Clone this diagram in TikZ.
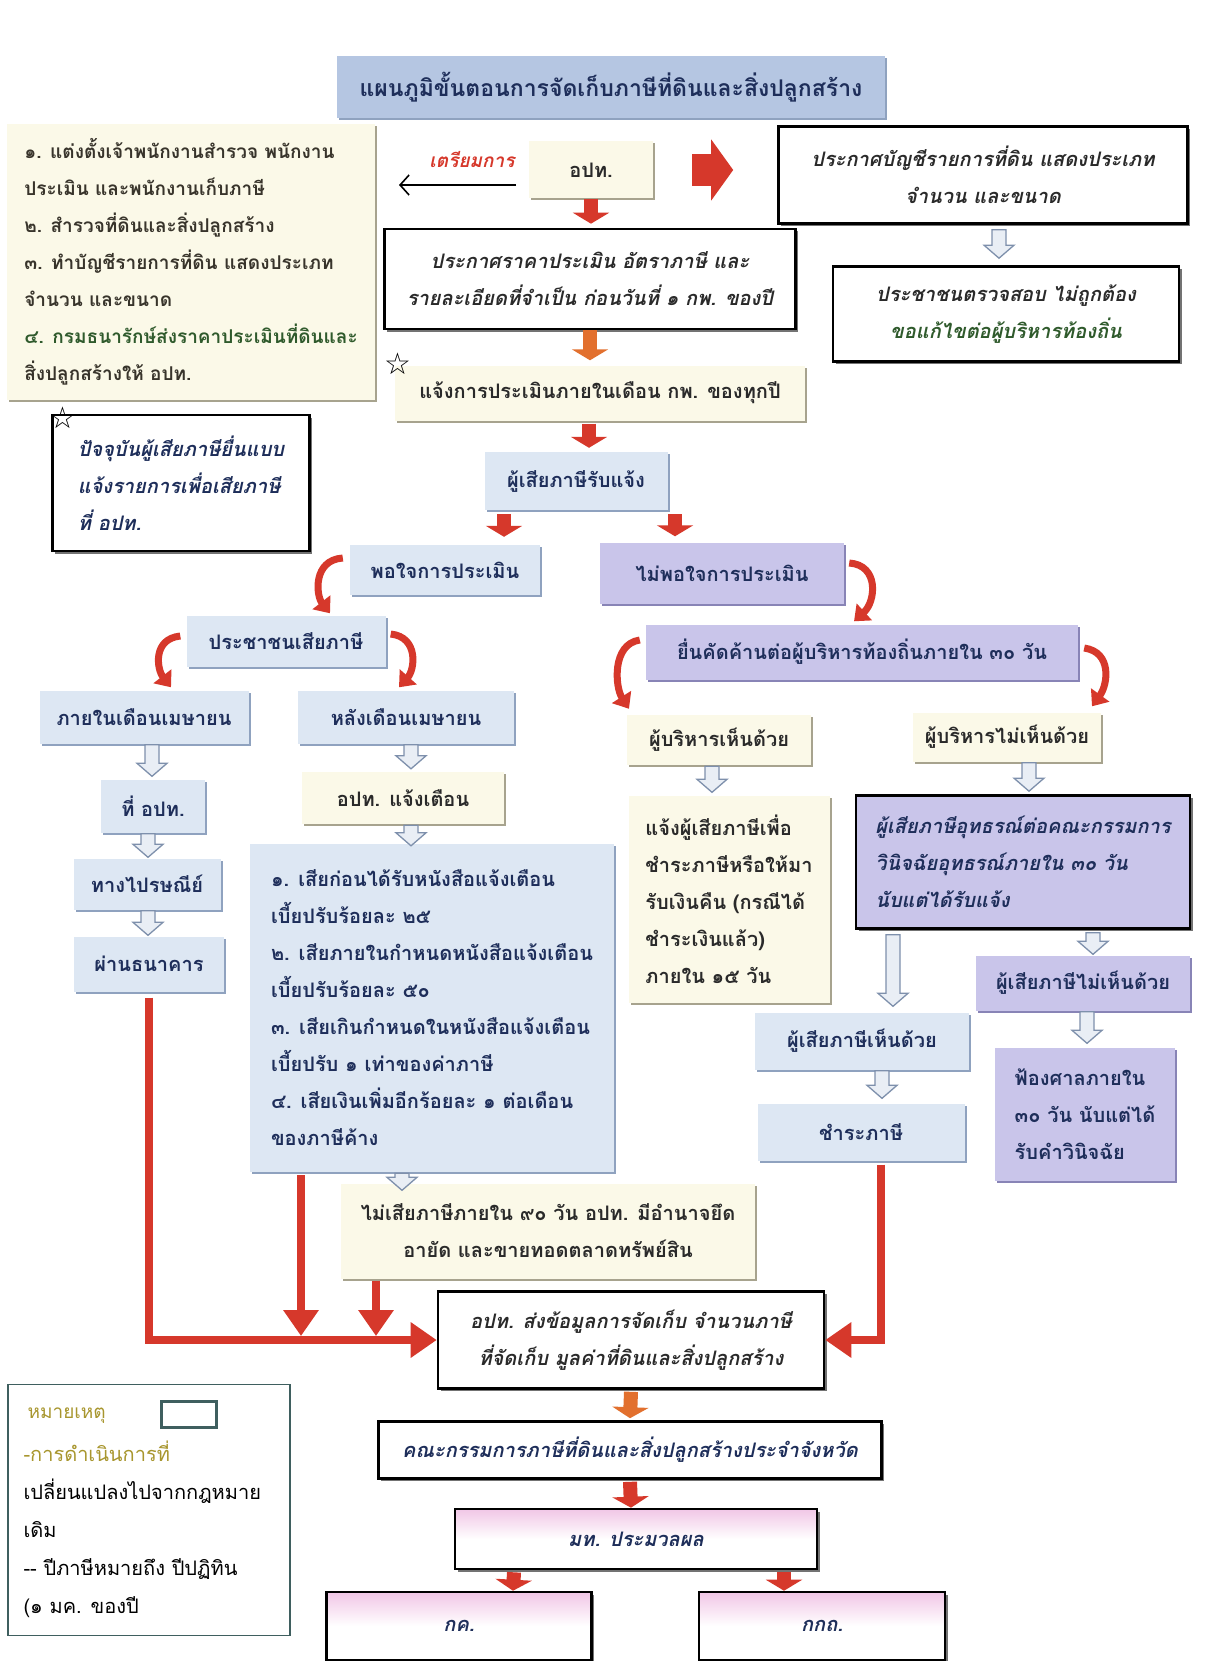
\documentclass[tikz,border=0pt]{standalone}
\usepackage{fontspec}
\setmainfont[Script=Thai]{Loma}
\newfontfamily\starfont{DejaVu Sans}
\usetikzlibrary{arrows.meta,shadows,calc}

\definecolor{boxblue}{HTML}{DDE7F3}
\definecolor{blueedge}{HTML}{8FA2BF}
\definecolor{boxcream}{HTML}{FBF9E8}
\definecolor{creamedge}{HTML}{A7A38E}
\definecolor{boxlav}{HTML}{C9C5EA}
\definecolor{lavedge}{HTML}{8884B6}
\definecolor{titleblue}{HTML}{B5C6E2}
\definecolor{navy}{HTML}{1E2E5A}
\definecolor{inkdark}{HTML}{2A2A2A}
\definecolor{arrred}{HTML}{D6382B}
\definecolor{arrorange}{HTML}{E2702E}
\definecolor{hollowline}{HTML}{7E90AC}
\definecolor{hollowfill}{HTML}{E9EEF5}
\definecolor{pinkband}{HTML}{F1C6E6}
\definecolor{darkgreen}{HTML}{2F5A2C}
\definecolor{oliveink}{HTML}{A8962E}
\definecolor{legline}{HTML}{3F5F5F}

\tikzset{
  softshade/.style={drop shadow={shadow xshift=2pt,shadow yshift=-2pt,opacity=1,fill=#1}},
  bluebox/.style={rectangle,fill=boxblue,text=navy,softshade=blueedge},
  creambox/.style={rectangle,fill=boxcream,text=inkdark,softshade=creamedge},
  lavbox/.style={rectangle,fill=boxlav,text=navy,softshade=lavedge},
  heavybox/.style={rectangle,draw=black,line width=2.6pt,fill=white,text=inkdark,
    font=\fontsize{20}{37}\selectfont\bfseries\itshape,
    drop shadow={shadow xshift=2.5pt,shadow yshift=-2.5pt,opacity=1,fill=black!55}},
  redarr/.style={draw=arrred,line width=14pt,-{Triangle[width=36pt,length=11pt]}},
  orangearr/.style={redarr,draw=arrorange},
  bigarr/.style={draw=arrred,line width=32pt,-{Triangle[width=60pt,length=22pt]}},
  curvarr/.style={draw=arrred,line width=7pt,-{Triangle[width=22pt,length=14pt]}},
  feedline/.style={draw=arrred,line width=8pt,-{Triangle[width=34pt,length=26pt]}},
  thinarr/.style={draw=black,line width=1.6pt,-{Straight Barb[length=9pt,width=20pt]}},
  hollowarr/.style={draw=hollowline,line width=1.3pt,fill=hollowfill,
    to path={let \p1=(\tikztostart),\p2=(\tikztotarget) in
      (\x1-7pt,\y1-1pt) -- (\x1+7pt,\y1-1pt) -- (\x1+7pt,\y2+14pt)
      -- (\x1+15pt,\y2+14pt) -- (\x1,\y2+1pt) -- (\x1-15pt,\y2+14pt)
      -- (\x1-7pt,\y2+14pt) -- cycle}}
}

\begin{document}
\begin{tikzpicture}[x=1pt,y=-1pt,font=\fontsize{20}{37}\selectfont\bfseries]

  \fill[white] (0,0) rectangle (1223,1661);
  \useasboundingbox (0,0) rectangle (1223,1661);

  \node[rectangle,fill=titleblue,text=navy,softshade=blueedge,minimum width=548pt,minimum height=62pt,
    font=\fontsize{23}{30}\selectfont\bfseries] (title) at (611,87) {แผนภูมิขั้นตอนการจัดเก็บภาษีที่ดินและสิ่งปลูกสร้าง};

  \begin{scope}[every node/.style={creambox}]
    \node[minimum width=368pt,minimum height=275pt,align=left,text=black!80!olive,
      font=\fontsize{19}{37}\selectfont\bfseries] (prep) at (191,262)
      {๑. แต่งตั้งเจ้าพนักงานสำรวจ พนักงาน\\ประเมิน และพนักงานเก็บภาษี\\๒. สำรวจที่ดินและสิ่งปลูกสร้าง\\
       ๓. ทำบัญชีรายการที่ดิน แสดงประเภท\\จำนวน และขนาด\\{\color{darkgreen}๔. กรมธนารักษ์ส่งราคาประเมินที่ดินและ}\\
       สิ่งปลูกสร้างให้ อปท.};
    \node[minimum width=124pt,minimum height=57pt] (aopt) at (591,170) {อปท.};
    \node[minimum width=410pt,minimum height=55pt] (notify) at (600,393) {แจ้งการประเมินภายในเดือน กพ. ของทุกปี};
    \node[minimum width=184pt,minimum height=50pt] (mgrok) at (719,740) {ผู้บริหารเห็นด้วย};
    \node[minimum width=188pt,minimum height=49pt] (mgrno) at (1007,737) {ผู้บริหารไม่เห็นด้วย};
    \node[minimum width=202pt,minimum height=52pt] (warn) at (403,798) {อปท. แจ้งเตือน};
    \node[minimum width=414pt,minimum height=95pt,align=center] (seize) at (548,1231)
      {ไม่เสียภาษีภายใน ๙๐ วัน อปท. มีอำนาจยึด\\อายัด และขายทอดตลาดทรัพย์สิน};
    \node[minimum width=201pt,minimum height=207pt,align=left] (refund) at (729,899)
      {แจ้งผู้เสียภาษีเพื่อ\\ชำระภาษีหรือให้มา\\รับเงินคืน (กรณีได้\\ชำระเงินแล้ว)\\ภายใน ๑๕ วัน};
  \end{scope}

  \begin{scope}[every node/.style={bluebox}]
    \node[minimum width=183pt,minimum height=58pt] (recv) at (576,481) {ผู้เสียภาษีรับแจ้ง};
    \node[minimum width=190pt,minimum height=50pt] (sat) at (445,570) {พอใจการประเมิน};
    \node[minimum width=199pt,minimum height=51pt] (payer) at (286,641) {ประชาชนเสียภาษี};
    \node[minimum width=209pt,minimum height=53pt] (inapr) at (144,717) {ภายในเดือนเมษายน};
    \node[minimum width=216pt,minimum height=53pt] (afapr) at (406,717) {หลังเดือนเมษายน};
    \node[minimum width=104pt,minimum height=53pt] (atlao) at (153,806) {ที่ อปท.};
    \node[minimum width=147pt,minimum height=51pt] (post) at (147,884) {ทางไปรษณีย์};
    \node[minimum width=150pt,minimum height=55pt] (bank) at (149,964) {ผ่านธนาคาร};
    \node[minimum width=364pt,minimum height=328pt,align=left] (penalty) at (432,1008)
      {๑. เสียก่อนได้รับหนังสือแจ้งเตือน\\เบี้ยปรับร้อยละ ๒๕\\๒. เสียภายในกำหนดหนังสือแจ้งเตือน\\เบี้ยปรับร้อยละ ๕๐\\
       ๓. เสียเกินกำหนดในหนังสือแจ้งเตือน\\เบี้ยปรับ ๑ เท่าของค่าภาษี\\๔. เสียเงินเพิ่มอีกร้อยละ ๑ ต่อเดือน\\ของภาษีค้าง};
    \node[minimum width=214pt,minimum height=57pt] (txagr) at (862,1041) {ผู้เสียภาษีเห็นด้วย};
    \node[minimum width=207pt,minimum height=57pt] (pay) at (861,1132) {ชำระภาษี};
  \end{scope}

  \begin{scope}[every node/.style={lavbox}]
    \node[minimum width=244pt,minimum height=61pt] (unsat) at (722,573) {ไม่พอใจการประเมิน};
    \node[minimum width=432pt,minimum height=55pt] (object) at (862,652) {ยื่นคัดค้านต่อผู้บริหารท้องถิ่นภายใน ๓๐ วัน};
    \node[minimum width=214pt,minimum height=55pt] (txdis) at (1083,983) {ผู้เสียภาษีไม่เห็นด้วย};
    \node[minimum width=180pt,minimum height=133pt,align=left] (court) at (1085,1114)
      {ฟ้องศาลภายใน\\๓๐ วัน นับแต่ได้\\รับคำวินิจฉัย};
  \end{scope}

  \begin{scope}[every node/.style={heavybox}]
    \node[minimum width=409pt,minimum height=97pt,align=center] (listann) at (983,175)
      {ประกาศบัญชีรายการที่ดิน แสดงประเภท\\จำนวน และขนาด};
    \node[minimum width=346pt,minimum height=95pt,align=center] (check) at (1006,314)
      {ประชาชนตรวจสอบ ไม่ถูกต้อง\\{\color{darkgreen}ขอแก้ไขต่อผู้บริหารท้องถิ่น}};
    \node[minimum width=411pt,minimum height=100pt,align=center] (rate) at (590,279)
      {ประกาศราคาประเมิน อัตราภาษี และ\\รายละเอียดที่จำเป็น ก่อนวันที่ ๑ กพ. ของปี};
    \node[minimum width=257pt,minimum height=136pt,align=left,text=navy] (self) at (181,483)
      {ปัจจุบันผู้เสียภาษียื่นแบบ\\แจ้งรายการเพื่อเสียภาษี\\ที่ อปท.};
    \node[minimum width=334pt,minimum height=133pt,align=left,fill=boxlav,text=navy] (appeal) at (1023,862)
      {ผู้เสียภาษีอุทธรณ์ต่อคณะกรรมการ\\วินิจฉัยอุทธรณ์ภายใน ๓๐ วัน\\นับแต่ได้รับแจ้ง};
    \node[minimum width=386pt,minimum height=97pt,align=center] (send) at (631,1340)
      {อปท. ส่งข้อมูลการจัดเก็บ จำนวนภาษี\\ที่จัดเก็บ มูลค่าที่ดินและสิ่งปลูกสร้าง};
    \node[minimum width=503pt,minimum height=57pt,text=navy] (cmte) at (630,1450)
      {คณะกรรมการภาษีที่ดินและสิ่งปลูกสร้างประจำจังหวัด};
    \node[minimum width=362pt,minimum height=60pt,top color=pinkband,bottom color=white,middle color=white,text=navy] (moi) at (636,1539) {มท. ประมวลผล};
    \node[minimum width=265pt,minimum height=68pt,top color=pinkband,bottom color=white,middle color=white,text=navy] (kk) at (459,1626) {กค.};
    \node[minimum width=246pt,minimum height=68pt,top color=pinkband,bottom color=white,middle color=white,text=navy] (kkt) at (822,1626) {กกถ.};
  \end{scope}

  \node[text=arrred,font=\fontsize{19}{24}\selectfont\bfseries\itshape] (preplabel) at (472,160) {เตรียมการ};
  \coordinate (prepR) at (516,185);
  \coordinate (prepL) at (399,185);
  \draw[thinarr] (prepR) -- (prepL);

  \node[font=\starfont\fontsize{30}{30}\selectfont] (star1) at (398,364) {☆};
  \node[font=\starfont\fontsize{30}{30}\selectfont] (star2) at (63,418) {☆};

  \draw[bigarr] ([xshift=39pt]aopt.east) -- ([xshift=80pt]aopt.east);
  \draw[redarr] (aopt.south) -- ([xshift=1pt,yshift=4pt]rate.north);
  \draw[orangearr] (rate.south) -- ([xshift=-10pt,yshift=5pt]notify.north);
  \draw[redarr] ([xshift=-11pt,yshift=-3pt]notify.south) -- ([xshift=13pt,yshift=4pt]recv.north);
  \draw[redarr] ([xshift=-72pt,yshift=-4pt]recv.south) -- ([xshift=59pt,yshift=8pt]sat.north);
  \draw[redarr] ([xshift=99pt,yshift=-4pt]recv.south) -- ([xshift=-47pt,yshift=6pt]unsat.north);
  \draw[orangearr] ([yshift=-2pt]send.south) -- ([yshift=2pt]cmte.north);
  \draw[redarr] ([yshift=-2pt]cmte.south) -- ([xshift=-5pt]moi.north);
  \draw[redarr] ([xshift=-122pt,yshift=-2pt]moi.south) -- ([xshift=54pt]kk.north);
  \draw[redarr] ([xshift=148pt,yshift=-2pt]moi.south) -- ([xshift=-38pt]kkt.north);

  \draw[hollowarr] ([xshift=16pt,yshift=-4pt]listann.south) to ([yshift=6pt]check.north);
  \draw[hollowarr] ([xshift=8pt]inapr.south) to ([yshift=2pt]atlao.north);
  \draw[hollowarr] ([xshift=-5pt]atlao.south) to (post.north);
  \draw[hollowarr] ([xshift=1pt]post.south) to (bank.north);
  \draw[hollowarr] ([xshift=5pt]afapr.south) to ([yshift=2pt]warn.north);
  \draw[hollowarr] ([xshift=8pt]warn.south) to ([yshift=-3pt]penalty.north);
  \draw[hollowarr] ([xshift=-30pt]penalty.south) to ([yshift=-8pt]seize.north);
  \draw[hollowarr] ([xshift=-7pt]mgrok.south) to ([yshift=2pt]refund.north);
  \draw[hollowarr] ([xshift=22pt]mgrno.south) to ([yshift=2pt]appeal.north);
  \draw[hollowarr] ([xshift=-130pt,yshift=-4pt]appeal.south) to ([yshift=5pt]txagr.north);
  \draw[hollowarr] ([xshift=70pt,yshift=-2pt]appeal.south) to (txdis.north);
  \draw[hollowarr] ([xshift=20pt]txagr.south) to ([yshift=4pt]pay.north);
  \draw[hollowarr] ([xshift=4pt]txdis.south) to ([yshift=3pt]court.north);

  \draw[curvarr] ([xshift=-7pt,yshift=12pt]sat.west) .. controls +(-30,2) and +(-14,-18) .. ([xshift=44pt,yshift=2pt]payer.north);
  \draw[curvarr] ([xshift=5pt,yshift=10pt]unsat.east) .. controls +(30,2) and +(22,-20) .. ([xshift=-8pt,yshift=3pt]object.north);
  \draw[curvarr] ([xshift=-6pt,yshift=5pt]payer.west) .. controls +(-28,3) and +(-14,-18) .. ([xshift=27pt,yshift=3pt]inapr.north);
  \draw[curvarr] ([xshift=5pt,yshift=7pt]payer.east) .. controls +(28,3) and +(16,-18) .. ([xshift=-7pt,yshift=3pt]afapr.north);
  \draw[curvarr] ([xshift=-6pt,yshift=12pt]object.west) .. controls +(-28,4) and +(-14,-22) .. ([xshift=-90pt,yshift=6pt]mgrok.north);
  \draw[curvarr] ([xshift=6pt,yshift=4pt]object.east) .. controls +(28,4) and +(16,-22) .. ([xshift=85pt,yshift=6pt]mgrno.north);

  \coordinate (penfoot) at ([xshift=-131pt,yshift=-3pt]penalty.south);
  \coordinate (seizefoot) at ([xshift=-172pt,yshift=-2pt]seize.south);
  \coordinate (payfoot) at ([xshift=20pt,yshift=-4pt]pay.south);
  \coordinate (penjoin) at (penfoot |- send.west);
  \coordinate (seizejoin) at (seizefoot |- send.west);
  \draw[feedline] ([yshift=-6pt]bank.south) |- (send.west);
  \draw[feedline] (penfoot) -- ([yshift=4pt]penjoin);
  \draw[feedline] (seizefoot) -- ([yshift=4pt]seizejoin);
  \draw[feedline] (payfoot) |- (send.east);

  \node[rectangle,draw=legline,line width=1.2pt,fill=white,minimum width=282pt,minimum height=251pt] (legend) at (149,1510) {};
  \node[anchor=west,text=oliveink,font=\fontsize{19}{24}\selectfont] (legnote) at (24,1416) {หมายเหตุ};
  \node[rectangle,draw=legline,line width=3pt,minimum width=55pt,minimum height=26pt] (legsym) at (189,1414) {};
  \node[anchor=north west,align=left,text=black,font=\fontsize{20}{38}\selectfont] (legtext) at (20,1437)
    {{\color{oliveink}-การดำเนินการที่}\\เปลี่ยนแปลงไปจากกฎหมาย\\เดิม\\-{}- ปีภาษีหมายถึง ปีปฏิทิน\\(๑ มค. ของปี};

\end{tikzpicture}
\end{document}
